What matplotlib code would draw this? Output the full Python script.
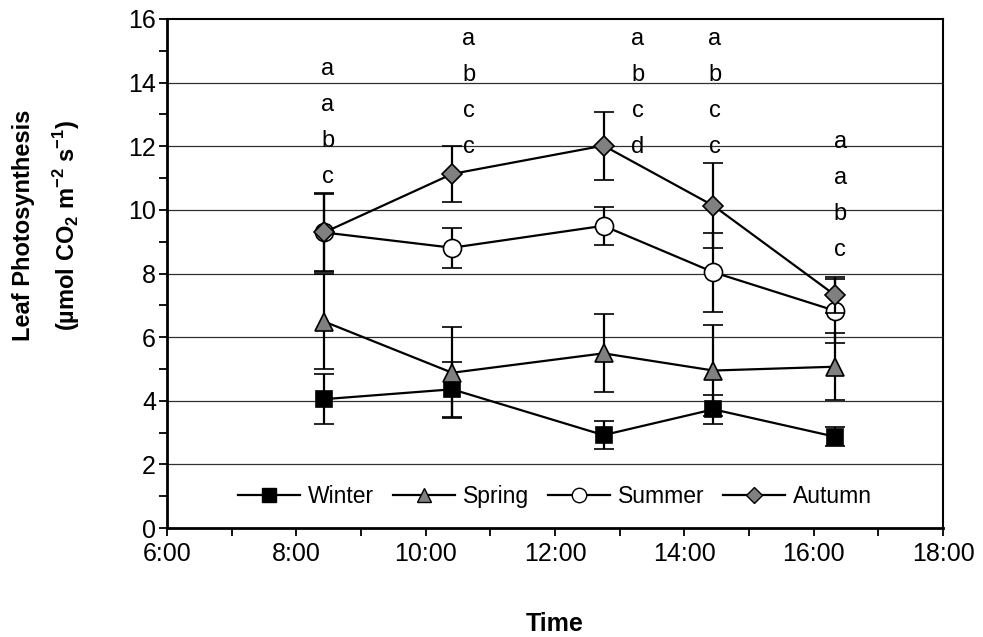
import matplotlib
matplotlib.use("Agg")
import matplotlib.pyplot as plt
from matplotlib.ticker import MultipleLocator, FuncFormatter

plt.rcParams['font.family'] = ['Liberation Sans', 'DejaVu Sans']
plt.rcParams['mathtext.fontset'] = 'custom'
plt.rcParams['mathtext.rm'] = 'Liberation Sans'
plt.rcParams['mathtext.bf'] = 'Liberation Sans:bold'

# Time of measurement (decimal hours)
times = [8.43, 10.41, 12.75, 14.45, 16.33]

winter = [4.05, 4.36, 2.92, 3.73, 2.87]
winter_err = [0.78, 0.86, 0.45, 0.45, 0.30]
spring = [6.49, 4.88, 5.49, 4.95, 5.07]
spring_err = [1.50, 1.43, 1.23, 1.43, 1.05]
summer = [9.29, 8.81, 9.50, 8.04, 6.83]
summer_err = [1.20, 0.63, 0.60, 1.24, 1.00]
autumn = [9.29, 11.13, 12.02, 10.13, 7.32]
autumn_err = [1.25, 0.88, 1.07, 1.33, 0.56]

# significance letters per time column
letter_x = [8.485, 10.67, 13.28, 14.47, 16.41]
letter_top = [14.24, 15.18, 15.18, 15.18, 11.94]
letters = [['a', 'a', 'b', 'c'],
           ['a', 'b', 'c', 'c'],
           ['a', 'b', 'c', 'd'],
           ['a', 'b', 'c', 'c'],
           ['a', 'a', 'b', 'c']]

fig = plt.figure(figsize=(9.83, 6.37), dpi=100)
ax = fig.add_axes([167/983, 1-528/637, 776/983, 509/637])

series = [
    ('Winter', winter, winter_err, 's', 'black', 12),
    ('Spring', spring, spring_err, '^', '#808080', 13),
    ('Summer', summer, summer_err, 'o', 'white', 13),
    ('Autumn', autumn, autumn_err, 'D', '#808080', 10.5),
]

for y in range(2, 16, 2):
    ax.axhline(y, color='#303030', lw=0.9, zorder=1)

handles = []
for i, (name, vals, err, mk, fc, ms) in enumerate(series):
    ax.errorbar(times, vals, yerr=err, color='black', lw=1.6,
                elinewidth=1.6, capsize=7, capthick=1.6,
                marker=mk, markersize=ms, markerfacecolor=fc,
                markeredgecolor='black', markeredgewidth=1.2,
                zorder=3 + i)
    h, = ax.plot([], [], color='black', lw=1.6, marker=mk,
                 markersize=ms * 0.8, markerfacecolor=fc,
                 markeredgecolor='black', markeredgewidth=1.0)
    handles.append(h)

ax.legend(handles, [s[0] for s in series], loc='center',
          bbox_to_anchor=(0.5, 1.0 / 16), ncol=4, frameon=False,
          fontsize=16.5, handlelength=2.7, handletextpad=0.35,
          columnspacing=0.83, borderaxespad=0)

step = 1.13
for lx, top, col in zip(letter_x, letter_top, letters):
    for j, l in enumerate(col):
        ax.text(lx, top - j * step, l, ha='center', va='baseline',
                fontsize=17, zorder=10)

ax.set_xlim(6, 18)
ax.set_ylim(0, 16)
ax.xaxis.set_major_locator(MultipleLocator(2))
ax.xaxis.set_minor_locator(MultipleLocator(1))
ax.yaxis.set_major_locator(MultipleLocator(2))
ax.yaxis.set_minor_locator(MultipleLocator(1))
ax.xaxis.set_major_formatter(FuncFormatter(lambda v, p: f"{int(round(v))}:00"))
ax.tick_params(which='both', direction='out', length=6, width=1.3,
               labelsize=18, color='black')
ax.tick_params(axis='x', which='major', pad=4)
ax.tick_params(axis='y', which='major', pad=2)

for s in ['left', 'bottom']:
    ax.spines[s].set_linewidth(2.0)
for s in ['top', 'right']:
    ax.spines[s].set_linewidth(1.5)

ax.set_xlabel('Time', fontsize=18, fontweight='bold', labelpad=33)

fig.text(24/983, 1 - 225/637, 'Leaf Photosynthesis', rotation=90,
         ha='center', va='center', fontsize=17, fontweight='bold')
fig.text(67/983, 1 - 225/637,
         r'(µmol CO$_\mathbf{2}$ m$^\mathbf{-2}$ s$^\mathbf{-1}$)',
         rotation=90, ha='center', va='center', fontsize=17,
         fontweight='bold')

fig.savefig('out.png', dpi=100)
